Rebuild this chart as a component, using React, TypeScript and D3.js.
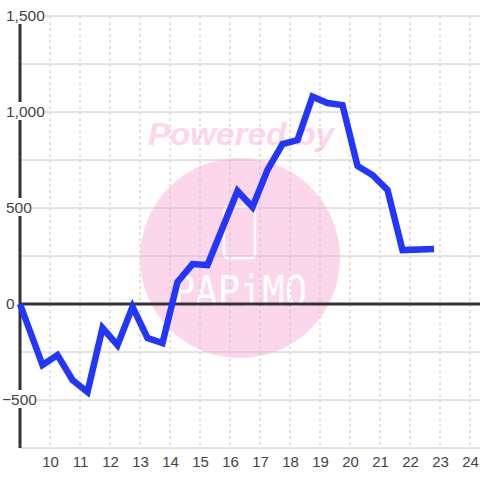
import React from "react";
import * as d3 from "d3";

const xs = [9, 9.75, 10.25, 10.75, 11.25, 11.75, 12.25, 12.75, 13.25, 13.75, 14.25, 14.75, 15.25, 16.25, 16.75, 17.25, 17.75, 18.25, 18.75, 19.25, 19.75, 20.25, 20.75, 21.25, 21.75, 22.8];
const ys = [0, -318, -266, -396, -458, -125, -214, -15, -177, -203, 115, 208, 203, 589, 505, 698, 833, 854, 1080, 1047, 1036, 719, 672, 594, 281, 286];
const yTickLabels = [1500, 1000, 500, 0, -500];
const yGrid = [-750, -500, -250, 250, 500, 750, 1000, 1250, 1500];
const xTicks = [10, 11, 12, 13, 14, 15, 16, 17, 18, 19, 20, 21, 22, 23, 24];

const W = 480, H = 480;
const left = 20, top = 16, bottom = 448, right = 480;

export default function App() {
  const x = d3.scaleLinear().domain([9, 9 + (right - left) / 30]).range([left, right]);
  const y = d3.scaleLinear().domain([-750, 1500]).range([bottom, top]);
  const line = d3.line<number>().x((_, i) => x(xs[i])).y((d) => y(d));
  const fmt = d3.format(",");
  const font = "'Liberation Sans', Arial, sans-serif";
  const labelW = (s: string) => {
    let w = 0;
    for (const c of s) w += c === "," ? 4.2 : c === "-" ? 5 : 8.35;
    return w;
  };
  return (
    <svg width={W} height={H} style={{ position: "absolute", left: 0, top: 0, background: "#fff" }}>
      {/* watermark */}
      <circle cx={240} cy={258} r={100} fill="#fcd6ea" />
      <text x={241} y={145} textAnchor="middle" fontFamily={font} fontWeight="bold" fontStyle="italic" fontSize={32} fill="#fdd6ec" textLength={186} lengthAdjust="spacingAndGlyphs">Powered by</text>
      <rect x={224} y={207} width={31} height={51} rx={4} fill="none" stroke="#fff" strokeWidth={2.5} />
      <text x={240} y={306} textAnchor="middle" fontFamily="'DejaVu Sans Mono', monospace" fontSize={42} fill="#fff" textLength={134} lengthAdjust="spacingAndGlyphs">PAPiMO</text>
      {/* grid */}
      {yGrid.map((v) => (
        <line key={"h" + v} x1={left} x2={right} y1={y(v)} y2={y(v)} stroke="#c8c8c8" strokeWidth={1} />
      ))}
      {xTicks.map((v) => (
        <line key={"v" + v} x1={x(v)} x2={x(v)} y1={top} y2={bottom} stroke="#c8c8c8" strokeWidth={1} strokeDasharray="3,3" />
      ))}
      {/* zero line and axis */}
      <line x1={left} x2={right} y1={y(0)} y2={y(0)} stroke="#333" strokeWidth={3} />
      <line x1={left} x2={left} y1={top} y2={bottom} stroke="#333" strokeWidth={3} />
      {/* y labels */}
      {yTickLabels.map((v) => {
        const s = fmt(v);
        const lx = v < 0 ? 2 : 6;
        return (
          <g key={"yl" + v}>
            <rect x={lx - 1} y={y(v) - 10} width={labelW(s) + 2} height={18} fill="#fff" />
            <text x={lx} y={y(v)} dy="0.35em" fontFamily={font} fontSize={15.5} fill="#444">{s}</text>
          </g>
        );
      })}
      {/* x labels */}
      {xTicks.map((v) => (
        <text key={"xl" + v} x={x(v) + 0.5} y={467} textAnchor="middle" fontFamily={font} fontSize={15} fill="#444">{v}</text>
      ))}
      {/* data */}
      <path d={line(ys) || ""} fill="none" stroke="#2236ff" strokeWidth={6.5} strokeLinejoin="miter" strokeLinecap="butt" />
    </svg>
  );
}
